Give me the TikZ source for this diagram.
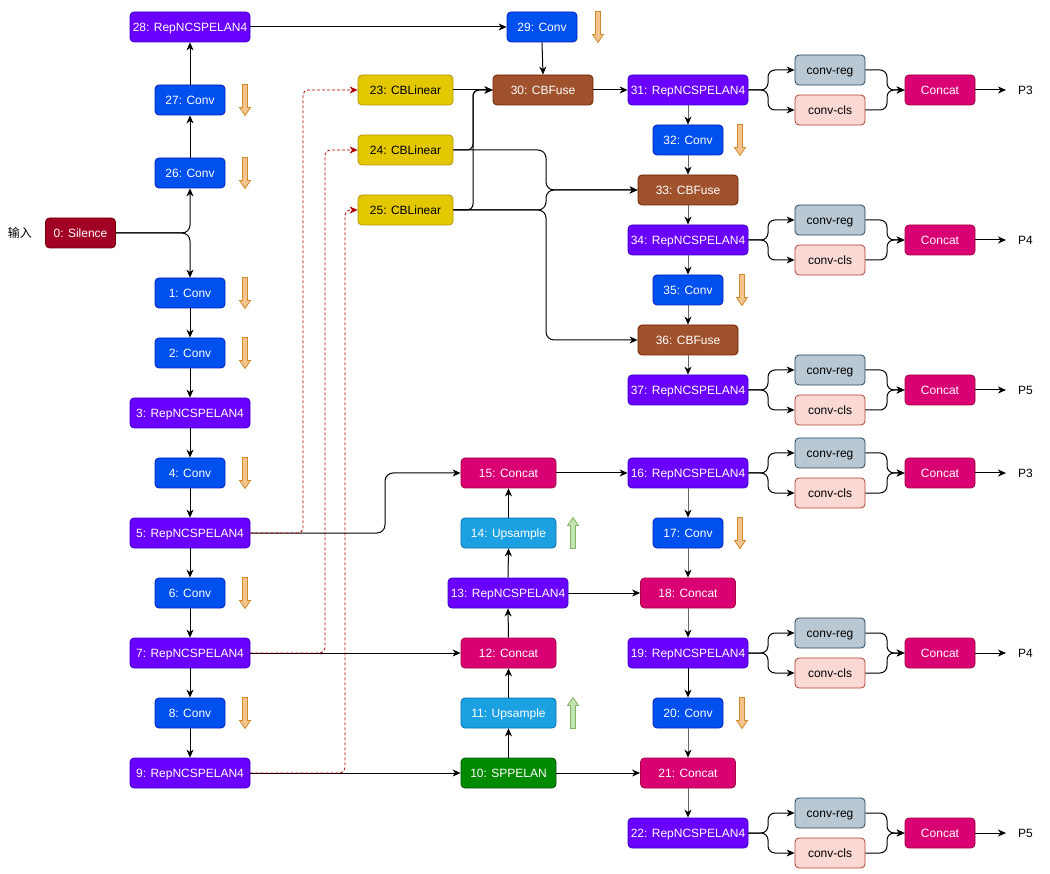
\documentclass[tikz,border=0pt]{standalone}
\usepackage{fontspec}
\setmainfont{Liberation Sans}
\newfontfamily\cjk{Noto Sans CJK SC}
\usetikzlibrary{arrows.meta}
\definecolor{cRep}{HTML}{6A00FF}\definecolor{sRep}{HTML}{3700CC}
\definecolor{cConv}{HTML}{0050EF}\definecolor{sConv}{HTML}{001DBC}
\definecolor{cSil}{HTML}{A20025}\definecolor{sSil}{HTML}{6F0000}
\definecolor{cCBL}{HTML}{E3C800}\definecolor{sCBL}{HTML}{B09500}
\definecolor{cCBF}{HTML}{A0522D}\definecolor{sCBF}{HTML}{6D1F00}
\definecolor{cCat}{HTML}{D80073}\definecolor{sCat}{HTML}{A50040}
\definecolor{cUps}{HTML}{1BA1E2}\definecolor{sUps}{HTML}{006EAF}
\definecolor{cSPP}{HTML}{008A00}\definecolor{sSPP}{HTML}{005700}
\definecolor{cReg}{HTML}{BAC8D3}\definecolor{sReg}{HTML}{23445D}
\definecolor{cCls}{HTML}{FAD9D5}\definecolor{sCls}{HTML}{AE4132}
\definecolor{cOr}{HTML}{F4C48E}\definecolor{sOr}{HTML}{D08A2A}
\definecolor{cGr}{HTML}{C2E3B0}\definecolor{sGr}{HTML}{82B366}
\definecolor{cDash}{HTML}{B20000}
\definecolor{cGray}{HTML}{666666}
\tikzset{
  x=1pt, y=-1pt,
  box/.style={draw, rounded corners=4pt, minimum height=30pt, inner sep=0pt, text height=10.9pt, text depth=2.5pt, line width=0.8pt, text=white, font=\fontsize{12}{14}\selectfont},
  rep/.style={box, fill=cRep, draw=sRep, minimum width=120pt},
  conv/.style={box, fill=cConv, draw=sConv, minimum width=70pt},
  sil/.style={box, fill=cSil, draw=sSil, minimum width=70pt},
  cbl/.style={box, fill=cCBL, draw=sCBL, minimum width=95pt, text=black},
  cbf/.style={box, fill=cCBF, draw=sCBF, minimum width=100pt},
  cat/.style={box, fill=cCat, draw=sCat, minimum width=95pt},
  catsm/.style={box, fill=cCat, draw=sCat, minimum width=70pt},
  ups/.style={box, fill=cUps, draw=sUps, minimum width=95pt},
  spp/.style={box, fill=cSPP, draw=sSPP, minimum width=95pt},
  reg/.style={box, fill=cReg, draw=sReg, minimum width=70pt, text=black},
  cls/.style={box, fill=cCls, draw=sCls, minimum width=70pt, text=black},
  plain/.style={inner sep=0pt, text height=10.9pt, text depth=2.5pt, font=\fontsize{12}{14}\selectfont},
  arr/.style={line width=1pt, -{Stealth[length=8pt,width=7pt,inset=2.5pt]}},
  garr/.style={line width=1pt, draw=cGray, -{Stealth[length=8pt,width=7pt,inset=2.5pt,color=black]}},
  darr/.style={line width=0.8pt, draw=cDash, dash pattern=on 3pt off 2pt, rounded corners=5pt, -{Stealth[length=8pt,width=7pt,inset=2.5pt,color=cDash]}},
  dnarrow/.pic={\draw[fill=cOr, draw=sOr, line width=0.8pt] (-2.5,-15.5) -- (2.5,-15.5) -- (2.5,7.5) -- (5.5,7.5) -- (0,15.5) -- (-5.5,7.5) -- (-2.5,7.5) -- cycle;},
  uparrow/.pic={\draw[fill=cGr, draw=sGr, line width=0.8pt] (-2.5,15.5) -- (2.5,15.5) -- (2.5,-7.5) -- (5.5,-7.5) -- (0,-15.5) -- (-5.5,-7.5) -- (-2.5,-7.5) -- cycle;},
}
\begin{document}
\begin{tikzpicture}
\useasboundingbox[fill=white] (0,0) rectangle (1050,874);
% left column
\node[rep] (n28) at (190,27) {28: RepNCSPELAN4};
\node[conv] (n27) at (190,100) {27: Conv};
\node[conv] (n26) at (190,173) {26: Conv};
\node[sil] (n0) at (80.5,233) {0: Silence};
\node[plain] (inp) at (20,233) {\cjk 输入};
\node[conv] (n1) at (190,293) {1: Conv};
\node[conv] (n2) at (190,353) {2: Conv};
\node[rep] (n3) at (190,413) {3: RepNCSPELAN4};
\node[conv] (n4) at (190,473) {4: Conv};
\node[rep] (n5) at (190,533) {5: RepNCSPELAN4};
\node[conv] (n6) at (190,593) {6: Conv};
\node[rep] (n7) at (190,653) {7: RepNCSPELAN4};
\node[conv] (n8) at (190,713) {8: Conv};
\node[rep] (n9) at (190,773) {9: RepNCSPELAN4};
% upper middle
\node[conv] (n29) at (542,27) {29: Conv};
\node[cbl] (n23) at (405.5,90) {23: CBLinear};
\node[cbl] (n24) at (405.5,150) {24: CBLinear};
\node[cbl] (n25) at (405.5,210) {25: CBLinear};
\node[cbf] (n30) at (543,90) {30: CBFuse};
\node[rep] (n31) at (688,90) {31: RepNCSPELAN4};
\node[conv] (n32) at (688,140) {32: Conv};
\node[cbf] (n33) at (688,190) {33: CBFuse};
\node[rep] (n34) at (688,240) {34: RepNCSPELAN4};
\node[conv] (n35) at (688,290) {35: Conv};
\node[cbf] (n36) at (688,340) {36: CBFuse};
\node[rep] (n37) at (688,390) {37: RepNCSPELAN4};
% lower middle
\node[cat] (n15) at (508.5,473) {15: Concat};
\node[ups] (n14) at (508.5,533) {14: Upsample};
\node[rep] (n13) at (508,593) {13: RepNCSPELAN4};
\node[cat] (n12) at (508.5,653) {12: Concat};
\node[ups] (n11) at (508.5,713) {11: Upsample};
\node[spp] (n10) at (508.5,773) {10: SPPELAN};
\node[rep] (n16) at (688,473) {16: RepNCSPELAN4};
\node[conv] (n17) at (688,533) {17: Conv};
\node[cat] (n18) at (688,593) {18: Concat};
\node[rep] (n19) at (688,653) {19: RepNCSPELAN4};
\node[conv] (n20) at (688,713) {20: Conv};
\node[cat] (n21) at (688,773) {21: Concat};
\node[rep] (n22) at (688,833) {22: RepNCSPELAN4};
% orange / green arrows
\foreach \px/\py in {245/100,245/173,245/293,245/353,245/473,245/593,245/713,598/27,740/140,742/290,740/533,742/713}
  \pic at (\px,\py) {dnarrow};
\foreach \px/\py in {573/533,573/713}
  \pic at (\px,\py) {uparrow};
% backbone edges
\draw[arr, rounded corners=8pt] (n0.east) -- (190,233) -- (n26.south);
\draw[arr, rounded corners=8pt] (n0.east) -- (190,233) -- (n1.north);
\foreach \a/\b in {n1/n2,n2/n3,n3/n4,n4/n5,n5/n6,n6/n7,n7/n8,n8/n9}
  \draw[arr] (\a.south) -- (\b.north);
\draw[arr] (n26.north) -- (n27.south);
\draw[arr] (n27.north) -- (n28.south);
\draw[arr] (n28.east) -- (n29.west);
\draw[arr] (n29.south) -- (n30.north);
% CBLinear to CBFuse
\draw[arr] (n23.east) -- (n30.west);
\draw[arr, rounded corners=6pt] (n24.east) -- (473,150) -- (473,90) -- (n30.west);
\draw[arr, rounded corners=6pt] (n25.east) -- (473,210) -- (473,90) -- (n30.west);
\draw[arr, rounded corners=8pt] (n24.east) -- (546,150) -- (546,190) -- (n33.west);
\draw[arr, rounded corners=8pt] (n25.east) -- (546,210) -- (546,190) -- (n33.west);
\draw[arr, rounded corners=8pt] (n25.east) -- (546,210) -- (546,340) -- (n36.west);
\draw[arr] (n30.east) -- (n31.west);
\foreach \a/\b in {n31/n32,n32/n33,n33/n34,n34/n35,n35/n36,n36/n37}
  \draw[garr] (\a.south) -- (\b.north);
% neck
\draw[arr, rounded corners=8pt] (n5.east) -- (385,533) -- (385,473) -- (n15.west);
\draw[arr] (n7.east) -- (n12.west);
\draw[arr] (n9.east) -- (n10.west);
\draw[darr] (n5.east) -- (303,533) -- (303,90) -- (n23.west);
\draw[darr] (n7.east) -- (325,653) -- (325,150) -- (n24.west);
\draw[darr] (n9.east) -- (345,773) -- (345,210) -- (n25.west);
\foreach \a/\b in {n10/n11,n11/n12,n12/n13,n13/n14,n14/n15}
  \draw[arr] (\a.north) -- (\b.south);
\draw[arr] (n15.east) -- (n16.west);
\draw[arr] (n13.east) -- (n18.west);
\draw[arr] (n10.east) -- (n21.west);
\foreach \a/\b in {n16/n17,n17/n18,n18/n19,n20/n21,n21/n22}
  \draw[garr] (\a.south) -- (\b.north);
\draw[arr] (n19.south) -- (n20.north);
% detection heads
\foreach \src/\yy/\lab/\id in {n31/90/P3/a,n34/240/P4/b,n37/390/P5/c,n16/473/P3/d,n19/653/P4/e,n22/833/P5/f}{
  \node[reg] (r\id) at (830,\yy-20) {conv-reg};
  \node[cls] (c\id) at (830,\yy+20) {conv-cls};
  \node[catsm] (k\id) at (940,\yy) {Concat};
  \node[plain, anchor=west, inner xsep=12pt] (p\id) at (1006,\yy) {\lab};
  \draw[arr, rounded corners=7pt] (\src.east) -- (768,\yy) -- (768,\yy-20) -- (r\id.west);
  \draw[arr, rounded corners=7pt] (\src.east) -- (768,\yy) -- (768,\yy+20) -- (c\id.west);
  \draw[arr, rounded corners=7pt] (r\id.east) -- (887,\yy-20) -- (887,\yy) -- (k\id.west);
  \draw[arr, rounded corners=7pt] (c\id.east) -- (887,\yy+20) -- (887,\yy) -- (k\id.west);
  \draw[arr] (k\id.east) -- (p\id.west);
}
\end{tikzpicture}
\end{document}
